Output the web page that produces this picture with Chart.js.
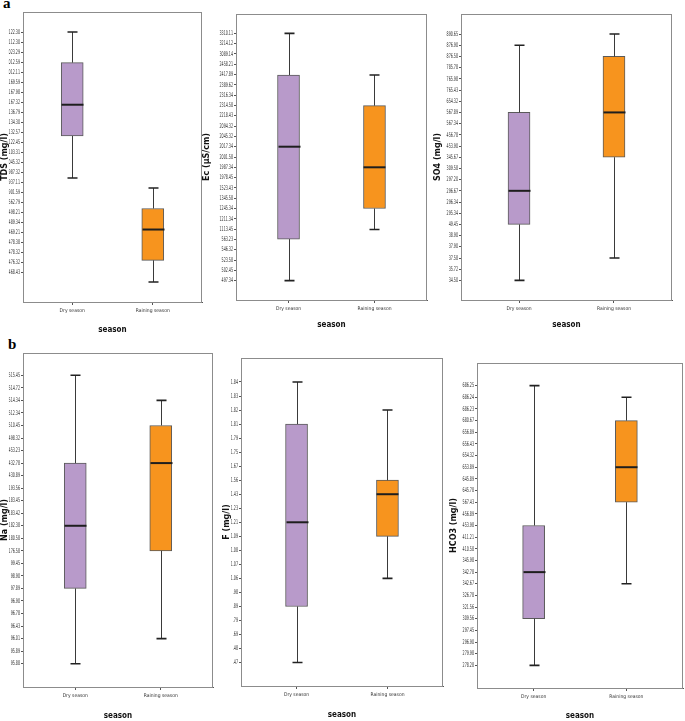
<!DOCTYPE html>
<html><head><meta charset="utf-8">
<script src="https://cdn.jsdelivr.net/npm/chart.js@4/dist/chart.umd.min.js"></script>
<style>
html,body{margin:0;padding:0;background:#fff;overflow:hidden;width:685px;height:721px;position:relative}
canvas{position:absolute}
.lbl{position:absolute;font:bold 15px 'Liberation Serif','DejaVu Serif',serif;line-height:15px;color:#000}
</style></head><body>
<div class="lbl" style="left:3px;top:-4px">a</div>
<div class="lbl" style="left:8px;top:337px">b</div>
<canvas id="c1"></canvas><canvas id="c2"></canvas><canvas id="c3"></canvas>
<canvas id="c4"></canvas><canvas id="c5"></canvas><canvas id="c6"></canvas>
<script>
// ---------- DATA ----------
const categories = ['Dry season', 'Raining season'];

// tick labels, listed top to bottom as printed on each axis
const tdsTicks = ['2122.30','2112.30','2023.29','2012.59','2012.11','1169.59','1167.98','1167.32','1136.79','1134.30','1132.57','1122.45','1103.31','1045.32','987.32','937.11','901.59','562.79','498.21','489.34','469.21','478.38','478.32','476.32','468.43'];
const ecTicks = ['3310.11','3214.12','3089.14','2458.21','2417.89','2389.62','2316.34','2314.58','2218.43','2094.32','2045.32','2017.34','2001.58','1987.34','1978.45','1523.43','1345.58','1245.34','1211.34','1113.45','563.23','546.32','523.58','502.45','497.34'];
const so4Ticks = ['890.65','876.90','876.58','785.78','765.98','765.43','654.32','567.89','567.34','456.78','453.90','345.67','309.58','297.20','296.67','296.34','295.34','49.45','38.90','37.90','37.58','35.72','34.50'];
const naTicks = ['515.45','514.72','514.34','512.34','510.45','498.32','453.23','432.78','430.89','193.56','183.45','183.42','182.38','180.58','176.58','99.45','98.90','97.89','96.90','96.78','96.43','96.01','95.89','95.88'];
const fTicks = ['1.84','1.83','1.82','1.81','1.79','1.75','1.67','1.56','1.43','1.23','1.21','1.09','1.08','1.07','1.06','.98','.89','.79','.69','.48','.47'];
const hco3Ticks = ['686.25','686.24','686.23','680.67','656.89','656.43','654.32','653.89','645.89','645.78','567.43','456.89','453.98','411.21','410.58','345.98','342.78','342.67','326.78','321.56','309.56','297.45','296.90','279.98','278.28'];

// box statistics [min, Q1, median, Q3, max], in axis rank units (0 = lowest printed tick)
const tdsDry  = [9.44, 13.63, 16.75, 20.95, 24];
const tdsRain = [-0.93, 1.23, 4.3, 6.4, 8.44];
const ecDry   = [0, 4.03, 13, 19.96, 24];
const ecRain  = [4.97, 7, 11, 16.98, 19.96];
const so4Dry  = [0, 5, 8, 15, 21];
const so4Rain = [2, 11, 15, 20, 22];
const naDry   = [0, 6, 11, 16, 23];
const naRain  = [2, 9, 16, 19, 21];
const fDry    = [0, 4, 10, 17, 20];
const fRain   = [6, 9, 12, 13, 18];
const hco3Dry  = [0, 4, 8, 12, 24];
const hco3Rain = [7, 14, 17, 21, 23];

const titles = ['TDS (mg/l)', 'Ec (µS/cm)', 'SO4 (mg/l)', 'Na (mg/l)', 'F (mg/l)', 'HCO3 (mg/l)'];

// ---------- STYLE / LAYOUT ----------
const boxColors = ['#b89aca', '#f7941e'];
const narrow = "'Liberation Sans Narrow','DejaVu Sans Condensed',sans-serif";
const layouts = [
  {id:'c1', L:0,   T:0,   W:210, H:335, yw:23, xh:33, pt:12, pr:8, ymin:-2.93, ymax:26.0},
  {id:'c2', L:202, T:0,   W:231, H:330, yw:34, xh:30, pt:14, pr:6, ymin:-1.88, ymax:25.88},
  {id:'c3', L:433, T:0,   W:245, H:330, yw:28, xh:30, pt:14, pr:6, ymin:-1.75, ymax:23.79},
  {id:'c4', L:0,   T:340, W:219, H:381, yw:23, xh:34, pt:13, pr:6, ymin:-1.86, ymax:24.78},
  {id:'c5', L:222, T:340, W:227, H:380, yw:19, xh:34, pt:18, pr:6, ymin:-1.67, ymax:21.71},
  {id:'c6', L:449, T:340, W:236, H:381, yw:28, xh:33, pt:23, pr:2, ymin:-1.94, ymax:25.94}
];
const panelData = [
  [tdsTicks, tdsDry, tdsRain],
  [ecTicks, ecDry, ecRain],
  [so4Ticks, so4Dry, so4Rain],
  [naTicks, naDry, naRain],
  [fTicks, fDry, fRain],
  [hco3Ticks, hco3Dry, hco3Rain]
];

// horizontally condense the y tick labels (right-aligned next to the ticks)
const condensePlugin = {
  id: 'condense',
  afterLayout(chart) {
    const sc = chart.scales.y;
    if (sc._condensed) return;
    sc._condensed = true;
    const orig = sc.drawLabels.bind(sc);
    sc.drawLabels = function (area) {
      const ctx = this.ctx;
      const rx = this.right - 3;
      ctx.save();
      ctx.translate(rx, 0); ctx.scale(0.56, 1); ctx.translate(-rx, 0);
      orig(area);
      ctx.restore();
    };
  }
};

const boxPlugin = {
  id: 'boxext',
  beforeDatasetsDraw(chart) {
    const a = chart.chartArea, c = chart.ctx;
    c.save();
    c.strokeStyle = '#8c8c8c'; c.lineWidth = 1;
    c.strokeRect(Math.round(a.left) + 0.5, Math.round(a.top) + 0.5,
                 Math.round(a.right - a.left) - 1, Math.round(a.bottom - a.top));
    c.restore();
  },
  afterDatasetsDraw(chart) {
    const stats = chart.options.plugins.boxext.stats;
    const xs = chart.scales.x, ys = chart.scales.y, c = chart.ctx;
    c.save();
    stats.forEach((s, i) => {
      const cx = Math.round(xs.getPixelForValue(i)) + 0.5;
      const yMin = ys.getPixelForValue(s[0]), yQ1 = ys.getPixelForValue(s[1]),
            yMed = ys.getPixelForValue(s[2]), yQ3 = ys.getPixelForValue(s[3]),
            yMax = ys.getPixelForValue(s[4]);
      c.strokeStyle = '#3a3a3a'; c.lineWidth = 1;
      c.beginPath();
      c.moveTo(cx, yQ3); c.lineTo(cx, yMax);
      c.moveTo(cx, yQ1); c.lineTo(cx, yMin);
      c.stroke();
      c.lineWidth = 1.6; c.strokeStyle = '#222';
      c.beginPath();
      c.moveTo(cx - 5, yMax); c.lineTo(cx + 5, yMax);
      c.moveTo(cx - 5, yMin); c.lineTo(cx + 5, yMin);
      c.stroke();
      c.lineWidth = 2; c.strokeStyle = '#1e1e1e';
      c.beginPath();
      c.moveTo(cx - 11, yMed); c.lineTo(cx + 11, yMed);
      c.stroke();
    });
    c.restore();
  }
};

layouts.forEach((lay, p) => {
  const [tickLabels, dry, rain] = panelData[p];
  const N = tickLabels.length;
  const cv = document.getElementById(lay.id);
  cv.width = lay.W; cv.height = lay.H;
  cv.style.left = lay.L + 'px'; cv.style.top = lay.T + 'px';
  cv.style.width = lay.W + 'px'; cv.style.height = lay.H + 'px';
  const stats = [dry, rain];
  new Chart(cv, {
    type: 'bar',
    data: {
      datasets: [{
        data: stats.map((s, i) => ({x: i, y: [s[1], s[3]]})),
        backgroundColor: boxColors,
        borderColor: '#5a5a5a',
        borderWidth: 1,
        borderSkipped: false,
        barThickness: 22
      }]
    },
    options: {
      responsive: false, animation: false, devicePixelRatio: 1,
      layout: {padding: {top: lay.pt, right: lay.pr, left: 0, bottom: 0}},
      plugins: {legend: {display: false}, tooltip: {enabled: false}, boxext: {stats}},
      scales: {
        x: {
          type: 'linear', min: -0.611, max: 1.611, offset: false,
          afterBuildTicks: (ax) => { ax.ticks = categories.map((_, i) => ({value: i})); },
          afterFit: (ax) => { ax.height = lay.xh; },
          ticks: {callback: (v) => categories[v], autoSkip: false, maxRotation: 0,
                  font: {size: 5, family: narrow}, color: '#333', padding: 3},
          grid: {offset: false, drawOnChartArea: false, drawTicks: true, tickLength: 3, color: '#555'},
          border: {display: true, color: '#555', width: 1},
          title: {display: true, text: 'season', padding: {top: 0, bottom: 0},
                  font: {size: 8, weight: 'bold', family: narrow}, color: '#111'}
        },
        y: {
          type: 'linear', min: lay.ymin, max: lay.ymax,
          afterBuildTicks: (ax) => { ax.ticks = tickLabels.map((_, i) => ({value: i})); },
          afterFit: (ax) => { ax.width = lay.yw; },
          ticks: {callback: (v) => tickLabels[N - 1 - v], autoSkip: false,
                  font: {size: 6.5, family: narrow}, color: '#333', padding: 1},
          grid: {drawOnChartArea: false, drawTicks: true, tickLength: 2, color: '#555'},
          border: {display: true, color: '#555', width: 1},
          title: {display: true, text: titles[p], padding: {top: 0, bottom: 0},
                  font: {size: 8, weight: 'bold', family: "'DejaVu Sans',sans-serif"}, color: '#111'}
        }
      }
    },
    plugins: [condensePlugin, boxPlugin]
  });
});
</script>
</body></html>
